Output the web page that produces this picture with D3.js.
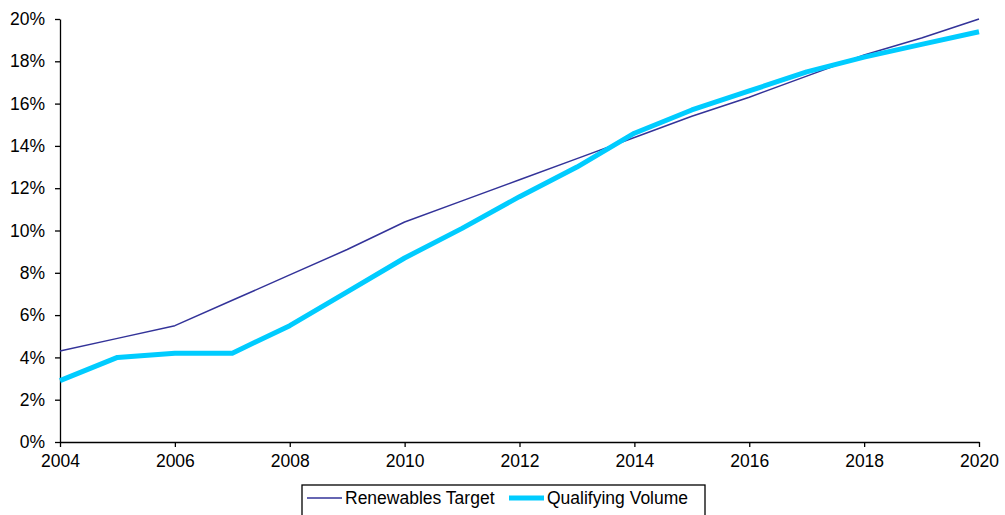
<!DOCTYPE html>
<html>
<head>
<meta charset="utf-8">
<script src="https://cdn.jsdelivr.net/npm/d3@7"></script>
<style>
  body { margin: 0; background: #fff; }
  svg text { font-family: "Liberation Sans", Arial, sans-serif; fill: #000; }
</style>
</head>
<body>
<svg id="chart" width="1005" height="515"></svg>
<script>
// data
var years = [2004, 2005, 2006, 2007, 2008, 2009, 2010, 2011, 2012, 2013, 2014, 2015, 2016, 2017, 2018, 2019, 2020];
var renewablesTarget = [4.3, 4.9, 5.5, 6.7, 7.9, 9.1, 10.4, 11.4, 12.4, 13.4, 14.4, 15.4, 16.3, 17.3, 18.3, 19.1, 20.0];
var qualifyingVolume = [2.9, 4.0, 4.2, 4.2, 5.5, 7.1, 8.7, 10.1, 11.6, 13.0, 14.6, 15.7, 16.6, 17.5, 18.2, 18.8, 19.4];
var xTicks = [2004, 2006, 2008, 2010, 2012, 2014, 2016, 2018, 2020];
var yTicks = [0, 2, 4, 6, 8, 10, 12, 14, 16, 18, 20];

var svg = d3.select("#chart"),
    margin = {top: 19, right: 26, bottom: 73, left: 60},
    width = +svg.attr("width") - margin.left - margin.right,
    height = +svg.attr("height") - margin.top - margin.bottom,
    g = svg.append("g").attr("transform", "translate(" + margin.left + "," + margin.top + ")");

var x = d3.scaleLinear().domain([2004, 2020]).range([0, width]);
var y = d3.scaleLinear().domain([0, 20]).range([height, 0]);

var series = [
    {name: "Renewables Target", values: renewablesTarget, color: "#333399", width: 1.5},
    {name: "Qualifying Volume", values: qualifyingVolume, color: "#00ccff", width: 5}
];

var line = d3.line()
    .x(function(d, i) { return x(years[i]); })
    .y(function(d) { return y(d); });

// axes
var xAxis = g.append("g")
    .attr("transform", "translate(0," + height + ")")
    .call(d3.axisBottom(x).tickValues(xTicks).tickFormat(d3.format("d")).tickSizeInner(5).tickSizeOuter(0).tickPadding(8));

var yAxis = g.append("g")
    .call(d3.axisLeft(y).tickValues(yTicks).tickFormat(function(d) { return d + "%"; }).tickSizeInner(5).tickSizeOuter(0).tickPadding(10));

[xAxis, yAxis].forEach(function(a) {
    a.select(".domain").attr("stroke", "#000").attr("stroke-width", 1.3);
    a.selectAll(".tick line").attr("stroke", "#000").attr("stroke-width", 1.3);
    a.selectAll(".tick text").style("font-size", "17.5px").attr("fill", "#000");
});

g.selectAll(".serie")
    .data(series)
    .enter().append("path")
    .attr("class", "serie")
    .attr("fill", "none")
    .attr("stroke", function(d) { return d.color; })
    .attr("stroke-width", function(d) { return d.width; })
    .attr("stroke-linejoin", "round")
    .attr("d", function(d) { return line(d.values); });

// legend
var legend = svg.append("g").attr("transform", "translate(302,485)");
legend.append("rect")
    .attr("x", 0).attr("y", 0)
    .attr("width", 403).attr("height", 40)
    .attr("fill", "#fff").attr("stroke", "#000").attr("stroke-width", 1.3);

var item = legend.selectAll(".item")
    .data(series)
    .enter().append("g")
    .attr("class", "item")
    .attr("transform", function(d, i) { return "translate(" + (i === 0 ? 5 : 207) + ",13)"; });

item.append("line")
    .attr("x1", 0).attr("x2", 35)
    .attr("stroke", function(d) { return d.color; })
    .attr("stroke-width", function(d) { return d.width; });

item.append("text")
    .attr("x", 38)
    .attr("dy", "0.35em")
    .style("font-size", "17.5px")
    .text(function(d) { return d.name; });
</script>
</body>
</html>
